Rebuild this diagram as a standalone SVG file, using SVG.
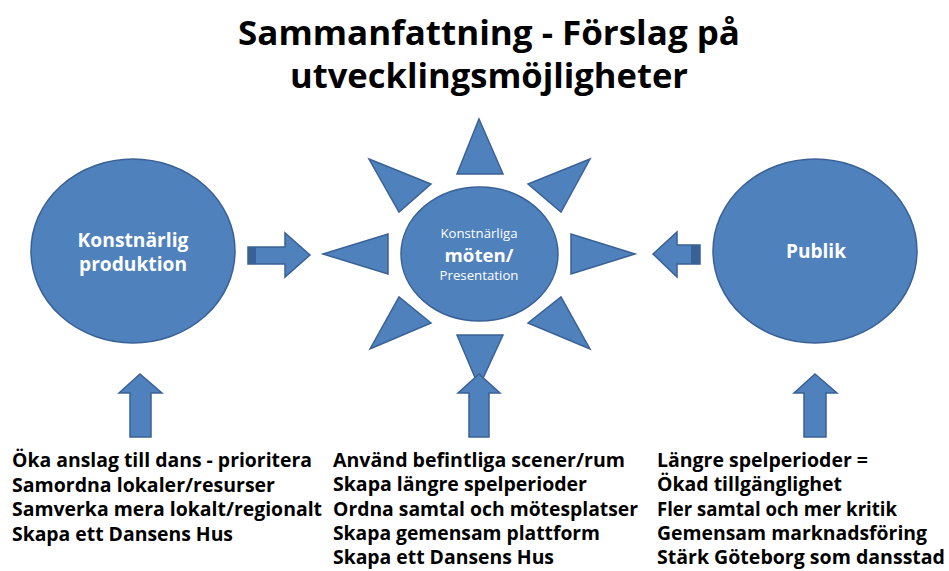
<svg xmlns="http://www.w3.org/2000/svg" width="949" height="571" viewBox="0 0 949 571">
<style>
.shape{fill:#4F81BD;stroke:#3A6195;stroke-width:1.5;stroke-linejoin:miter}
.dark{fill:#3A6195}
.title{font-family:"Open Sans","Liberation Sans",sans-serif;font-weight:bold;font-size:34px;fill:#000;text-anchor:middle}
.lbl{font-family:"Open Sans","Liberation Sans",sans-serif;fill:#fff;text-anchor:middle}
.b{font-weight:bold}
.list{font-family:"Open Sans","Liberation Sans",sans-serif;font-weight:bold;font-size:19px;fill:#000}
</style>
<rect width="949" height="571" fill="#fff"/>
<g id="title">
<text class="title" x="489" y="45" textLength="502" lengthAdjust="spacingAndGlyphs">Sammanfattning - Förslag på</text>
<text class="title" x="489" y="88" textLength="398" lengthAdjust="spacingAndGlyphs">utvecklingsmöjligheter</text>
</g>
<g id="node-produktion">
<ellipse class="shape" cx="133" cy="251" rx="102" ry="92"/>
<text class="lbl b" x="133" y="247" font-size="19" textLength="111" lengthAdjust="spacingAndGlyphs">Konstnärlig</text>
<text class="lbl b" x="133" y="271" font-size="19" textLength="108" lengthAdjust="spacingAndGlyphs">produktion</text>
</g>
<g id="node-moten">
<polygon class="shape" points="479,119 503,174 457,174"/>
<polygon class="shape" points="457,335 503,335 479,387"/>
<polygon class="shape" points="323,254 388,234 388,274"/>
<polygon class="shape" points="635,254 571,234 571,274"/>
<polygon class="shape" points="369,159 431,184 399,212"/>
<polygon class="shape" points="590,159 528,184 561,212"/>
<polygon class="shape" points="370,349 399,297 431,323"/>
<polygon class="shape" points="590,349 561,297 528,323"/>
<ellipse class="shape" cx="479.5" cy="254" rx="78.5" ry="67"/>
<text class="lbl" x="479" y="238" font-size="12" textLength="77" lengthAdjust="spacingAndGlyphs">Konstnärliga</text>
<text class="lbl b" x="479" y="262" font-size="17" textLength="69" lengthAdjust="spacingAndGlyphs">möten/</text>
<text class="lbl" x="479" y="280" font-size="12" textLength="79" lengthAdjust="spacingAndGlyphs">Presentation</text>
</g>
<g id="node-publik">
<ellipse class="shape" cx="815" cy="251" rx="102" ry="92"/>
<text class="lbl b" x="816" y="258" font-size="19" textLength="60" lengthAdjust="spacingAndGlyphs">Publik</text>
</g>
<g id="connectors">
<polygon class="shape" points="248,247 285,247 285,233 310,255 285,277 285,264 248,264"/>
<rect class="dark" x="248" y="247" width="8" height="17"/>
<polygon class="shape" points="653,254 677,232 677,245 700,245 700,264 677,264 677,277"/>
<rect class="dark" x="691" y="245" width="9" height="19"/>
<polygon class="shape" points="140,374 162,393 151,393 151,437 130,437 130,393 119,393"/>
<polygon class="shape" points="479,374 500,393 489,393 489,437 469,437 469,393 458,393"/>
<polygon class="shape" points="815,374 837,393 826,393 826,437 804,437 804,393 794,393"/>
</g>
<g id="list-left">
<text class="list" x="12" y="467" textLength="300" lengthAdjust="spacingAndGlyphs">Öka anslag till dans - prioritera</text>
<text class="list" x="12" y="492" textLength="263" lengthAdjust="spacingAndGlyphs">Samordna lokaler/resurser</text>
<text class="list" x="12" y="516" textLength="310" lengthAdjust="spacingAndGlyphs">Samverka mera lokalt/regionalt</text>
<text class="list" x="12" y="541" textLength="221" lengthAdjust="spacingAndGlyphs">Skapa ett Dansens Hus</text>
</g>
<g id="list-middle">
<text class="list" x="333" y="467" textLength="292" lengthAdjust="spacingAndGlyphs">Använd befintliga scener/rum</text>
<text class="list" x="333" y="491" textLength="254" lengthAdjust="spacingAndGlyphs">Skapa längre spelperioder</text>
<text class="list" x="333" y="516" textLength="305" lengthAdjust="spacingAndGlyphs">Ordna samtal och mötesplatser</text>
<text class="list" x="333" y="540" textLength="267" lengthAdjust="spacingAndGlyphs">Skapa gemensam plattform</text>
<text class="list" x="333" y="564" textLength="221" lengthAdjust="spacingAndGlyphs">Skapa ett Dansens Hus</text>
</g>
<g id="list-right">
<text class="list" x="657" y="467" textLength="211" lengthAdjust="spacingAndGlyphs">Längre spelperioder =</text>
<text class="list" x="657" y="491" textLength="185" lengthAdjust="spacingAndGlyphs">Ökad tillgänglighet</text>
<text class="list" x="657" y="516" textLength="240" lengthAdjust="spacingAndGlyphs">Fler samtal och mer kritik</text>
<text class="list" x="657" y="540" textLength="270" lengthAdjust="spacingAndGlyphs">Gemensam marknadsföring</text>
<text class="list" x="657" y="564" textLength="288" lengthAdjust="spacingAndGlyphs">Stärk Göteborg som dansstad</text>
</g>
</svg>
